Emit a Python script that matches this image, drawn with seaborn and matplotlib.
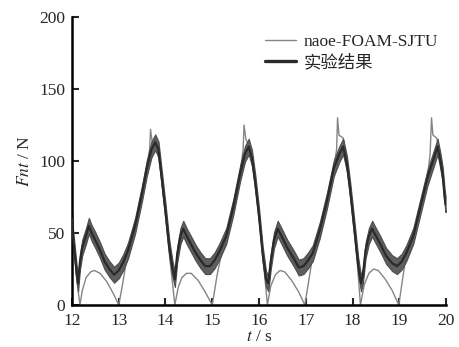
import numpy as np
import pandas as pd
import seaborn as sns
import matplotlib
matplotlib.use("Agg")
import matplotlib.pyplot as plt

# naoe-FOAM-SJTU simulation
t_sim = [12.00, 12.05, 12.10, 12.17, 12.22, 12.30, 12.40, 12.48, 12.60, 12.75, 12.90, 13.00,
         13.08, 13.18, 13.35, 13.50, 13.60, 13.66, 13.68, 13.72, 13.80, 13.90, 14.00, 14.10, 14.20,
         14.27, 14.35, 14.45, 14.55, 14.70, 14.85, 15.00,
         15.10, 15.18, 15.30, 15.45, 15.60, 15.66, 15.68, 15.72, 15.80, 15.90, 16.00, 16.10, 16.18,
         16.25, 16.35, 16.45, 16.55, 16.70, 16.85, 16.98,
         17.08, 17.16, 17.30, 17.45, 17.60, 17.66, 17.68, 17.71, 17.80, 17.88, 18.00, 18.10, 18.17,
         18.25, 18.35, 18.45, 18.55, 18.70, 18.85, 18.99,
         19.08, 19.16, 19.30, 19.45, 19.60, 19.66, 19.69, 19.72, 19.80, 19.88, 19.95, 20.00]
f_sim = [58, 40, 18, 0, 10, 19, 23, 24, 22, 16, 7, 0,
         14, 34, 55, 78, 95, 108, 122, 112, 114, 92, 62, 30, 0,
         12, 19, 22, 22, 17, 9, 0,
         20, 33, 48, 68, 92, 108, 125, 115, 110, 90, 62, 28, 0,
         13, 21, 24, 23, 17, 9, 0,
         20, 37, 52, 72, 95, 108, 130, 118, 116, 100, 62, 30, 0,
         14, 22, 25, 24, 18, 10, 0,
         20, 37, 48, 68, 88, 105, 130, 118, 116, 105, 85, 68]

# towing-tank measurement
t_exp = [12.00, 12.02, 12.06, 12.10, 12.13, 12.17, 12.22, 12.30, 12.36, 12.42, 12.50, 12.60,
         12.70, 12.80, 12.90, 13.00, 13.10, 13.20, 13.35, 13.50, 13.60, 13.70, 13.78, 13.85,
         13.92, 14.00, 14.08, 14.15, 14.20, 14.25, 14.32, 14.38, 14.45, 14.55, 14.65, 14.75,
         14.85, 14.95, 15.05, 15.15, 15.30, 15.45, 15.60, 15.70, 15.78, 15.85, 15.92, 16.00,
         16.08, 16.15, 16.20, 16.25, 16.32, 16.40, 16.48, 16.60, 16.75, 16.85, 16.95, 17.05,
         17.15, 17.30, 17.45, 17.60, 17.72, 17.80, 17.88, 17.95, 18.05, 18.12, 18.18, 18.22,
         18.28, 18.35, 18.42, 18.50, 18.60, 18.72, 18.85, 18.95, 19.05, 19.15, 19.30, 19.45,
         19.60, 19.72, 19.82, 19.88, 19.93, 19.97, 19.99]
f_exp = [60, 48, 35, 22, 15, 30, 40, 48, 55, 50, 45, 38,
         30, 25, 21, 24, 30, 38, 55, 78, 95, 108, 113, 108,
         88, 65, 40, 25, 18, 35, 48, 53, 48, 42, 36, 31,
         27, 27, 31, 37, 48, 68, 92, 105, 110, 102, 85, 62,
         35, 18, 15, 30, 45, 53, 48, 40, 32, 26, 27, 31,
         36, 52, 72, 95, 105, 110, 98, 80, 50, 28, 15, 20,
         38, 48, 53, 48, 42, 34, 29, 27, 30, 36, 48, 68,
         88, 100, 110, 100, 90, 75, 70]

# half-height of the high-frequency scatter around the measured signal
exp_spread = 5.5

x_ticks = [12, 13, 14, 15, 16, 17, 18, 19, 20]
y_ticks = [0, 50, 100, 150, 200]
labels = ["naoe-FOAM-SJTU", "实验结果"]

sim = pd.DataFrame({"t": t_sim, "F": f_sim})
exp = pd.DataFrame({"t": t_exp, "F": f_exp})

sns.set_style("ticks")
plt.rcParams["font.family"] = ["Liberation Serif", "Noto Sans CJK SC"]
plt.rcParams["mathtext.fontset"] = "stix"

fig = plt.figure(figsize=(4.6, 3.47), dpi=100)
ax = fig.add_axes([0.1565, 0.121, 0.8131, 0.830])

sns.lineplot(data=sim, x="t", y="F", ax=ax, sort=False, estimator=None,
             color="#858585", linewidth=1.0, label=labels[0])
ax.fill_between(exp["t"], exp["F"] - exp_spread, exp["F"] + exp_spread,
                color="#5e5e5e", linewidth=0.8, edgecolor="#4c4c4c", zorder=2.5)
sns.lineplot(data=exp, x="t", y="F", ax=ax, sort=False, estimator=None,
             color="#2a2a2a", linewidth=1.6, label=labels[1], zorder=3)

ax.set_xlim(12, 20)
ax.set_ylim(0, 200)
ax.set_xticks(x_ticks)
ax.set_yticks(y_ticks)
ax.tick_params(direction="in", length=5, width=1.5, labelsize=12.5)
ax.tick_params(axis="x", pad=6)
ax.tick_params(axis="y", pad=5)
for s in ["left", "bottom"]:
    ax.spines[s].set_linewidth(1.8)
    ax.spines[s].set_color("black")
sns.despine(ax=ax)

ax.set_xlabel("$t$ / s", fontsize=12.5, labelpad=0)
ax.set_ylabel("$Fnt$ / N", fontsize=12.5, labelpad=4)

leg = ax.legend(loc="upper right", bbox_to_anchor=(1.02, 0.995), frameon=False,
                fontsize=12.5, handlelength=1.8, handletextpad=0.4, labelspacing=0.25)
leg.get_lines()[0].set_linewidth(1.0)
leg.get_lines()[1].set_linewidth(2.4)
leg.get_lines()[1].set_color("#2a2a2a")

fig.savefig("out.png", dpi=100)
